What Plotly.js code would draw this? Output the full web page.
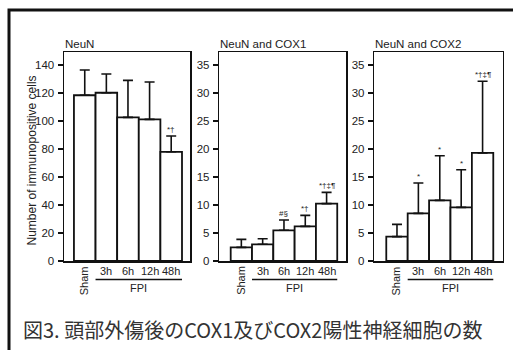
<!DOCTYPE html>
<html><head><meta charset="utf-8">
<script src="https://cdn.plot.ly/plotly-3.0.1.min.js"></script>
<style>html,body{margin:0;padding:0;background:#fff;}#c{width:513px;height:350px;}</style>
</head><body><div id="c"></div>
<script>
const categories = ['Sham','3h','6h','12h','48h'];
const panelTitles = ['NeuN','NeuN and COX1','NeuN and COX2'];
const neunMean = [118.4, 120.2, 102.6, 101.2, 78.0];
const neunSD   = [18.0, 13.4, 26.4, 26.7, 11.3];
const cox1Mean = [2.44, 2.98, 5.48, 6.19, 10.24];
const cox1SD   = [1.43, 1.00, 1.84, 1.96, 2.02];
const cox2Mean = [4.35, 8.51, 10.83, 9.58, 19.3];
const cox2SD   = [2.20, 5.42, 7.97, 6.72, 12.8];
const neunSig = ['', '', '', '', '*†'];
const cox1Sig = ['', '', '#§', '*†', '*†‡¶'];
const cox2Sig = ['', '*', '*', '*', '*†‡¶'];
const groupLabel = 'FPI';
const yTitle = 'Number of immunopositive cells';
const caption = '図3. 頭部外傷後のCOX1及びCOX2陽性神経細胞の数';

const W = 513, H = 350;
const px = v => v / W, py = v => (H - v) / H;
const means = [neunMean, cox1Mean, cox2Mean];
const sds = [neunSD, cox1SD, cox2SD];
const sigs = [neunSig, cox1Sig, cox2Sig];
const domains = [[64, 190], [219.3, 346.3], [374.3, 502.7]];
const xRanges = [[-0.96, 4.87], [-1.035, 4.925], [-1.06, 4.94]];
const yRanges = [[0, 149.3], [0, 37.33], [0, 37.33]];
const dticks = [20, 5, 5];
const F = '"Liberation Sans", Arial, sans-serif';
const TC = '#222';
const xs = categories.map((c, i) => i);

const data = [];
const layout = {
  width: W, height: H, margin: {l:0, r:0, t:0, b:0},
  paper_bgcolor: '#fff', plot_bgcolor: '#fff', showlegend: false,
  bargap: 0, font: {family: F, color: TC, size: 11},
  annotations: [], shapes: []
};
for (let p = 0; p < 3; p++) {
  const sfx = p === 0 ? '' : String(p + 1);
  data.push({
    type: 'bar', x: xs, y: means[p], width: 1,
    xaxis: 'x' + sfx, yaxis: 'y' + sfx,
    marker: {color: '#fff', line: {color: '#111', width: 1.8}},
    error_y: {type: 'data', symmetric: false, array: sds[p], arrayminus: sds[p].map(() => 0),
      color: '#111', thickness: 1.6, width: 5},
    hoverinfo: 'none'
  });
  layout['xaxis' + sfx] = {
    domain: [px(domains[p][0]), px(domains[p][1])], range: xRanges[p],
    anchor: 'y' + sfx, showticklabels: false, ticks: '', showgrid: false, zeroline: false,
    showline: true, mirror: true, linecolor: '#111', linewidth: 1.5, fixedrange: true
  };
  layout['yaxis' + sfx] = {
    domain: [py(261), py(52)], range: yRanges[p], dtick: dticks[p], tick0: 0,
    anchor: 'x' + sfx, ticks: 'outside', ticklen: 5, tickwidth: 1.3, tickcolor: '#111',
    showgrid: false, zeroline: false, showline: true, mirror: true,
    linecolor: '#111', linewidth: 1.5, tickfont: {size: 11.5, family: F, color: TC},
    ticklabelstandoff: 1, fixedrange: true
  };
  const xr = 'x' + sfx, yr = 'y' + sfx;
  layout.annotations.push({xref: 'paper', yref: 'paper', x: px(domains[p][0]) - 0.002, y: py(52), xanchor: 'left', yanchor: 'bottom', yshift: 0,
    text: panelTitles[p], showarrow: false, font: {size: 11.5, family: F, color: TC}});
  categories.forEach((c, i) => {
    if (i === 0) {
      layout.annotations.push({xref: xr, yref: 'paper', x: i, y: py(264), xanchor: 'center', yanchor: 'top', xshift: -1,
        text: c, textangle: -90, showarrow: false, font: {size: 11, family: F, color: TC}});
    } else {
      layout.annotations.push({xref: xr, yref: 'paper', x: i, y: py(270.5), xanchor: 'center', yanchor: 'middle',
        text: c, showarrow: false, font: {size: 11, family: F, color: TC}});
    }
    if (sigs[p][i]) {
      layout.annotations.push({xref: xr, yref: yr, x: i, y: means[p][i] + sds[p][i], xanchor: 'center', yanchor: 'bottom', yshift: 0,
        text: sigs[p][i], showarrow: false, font: {size: 8, family: F, color: TC}});
    }
  });
  layout.shapes.push({type: 'line', xref: xr, yref: 'paper', x0: 0.5, x1: 4.5, y0: py(279.5), y1: py(279.5), line: {color: '#111', width: 1.3}});
  layout.annotations.push({xref: xr, yref: 'paper', x: 2.5, y: py(287.5), xanchor: 'center', yanchor: 'middle',
    text: groupLabel, showarrow: false, font: {size: 11, family: F, color: TC}});
}
layout.annotations.push({xref: 'paper', yref: 'paper', x: px(31.5), y: py(161), xanchor: 'center', yanchor: 'middle',
  text: yTitle, textangle: -90, showarrow: false, font: {size: 12, family: F, color: TC}});
layout.annotations.push({xref: 'paper', yref: 'paper', x: px(21), y: py(329), xanchor: 'left', yanchor: 'middle',
  text: caption, showarrow: false, font: {size: 20, family: '"Noto Sans CJK JP", sans-serif', color: '#333'}});
layout.shapes.push({type: 'rect', xref: 'paper', yref: 'paper', x0: px(9), x1: px(530), y0: py(370), y1: py(10),
  line: {color: '#111', width: 3}, fillcolor: 'rgba(0,0,0,0)'});

Plotly.newPlot('c', data, layout, {staticPlot: true, displayModeBar: false});
</script></body></html>
